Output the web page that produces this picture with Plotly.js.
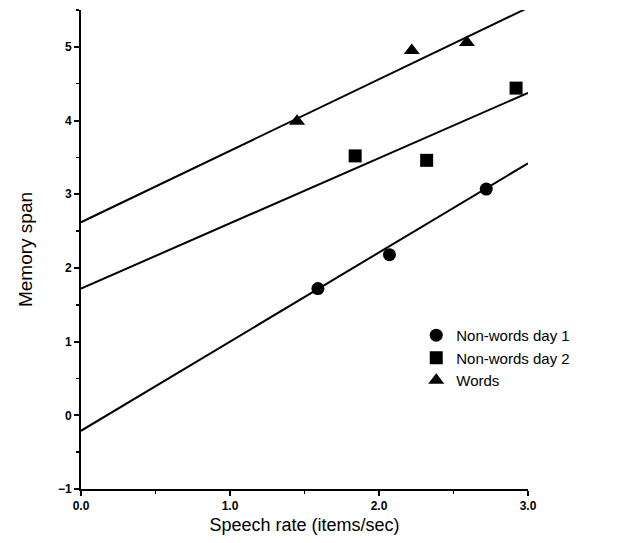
<!DOCTYPE html>
<html>
<head>
<meta charset="utf-8">
<script src="https://cdn.plot.ly/plotly-3.0.1.min.js"></script>
<style>html,body{margin:0;padding:0;background:#fff;}</style>
</head>
<body>
<div id="chart" style="width:623px;height:543px;"></div>
<script>
// Data
const seriesNames = ["Non-words day 1", "Non-words day 2", "Words"];
const day1X = [1.59, 2.07, 2.72];
const day1Y = [1.72, 2.18, 3.07];
const day2X = [1.84, 2.32, 2.92];
const day2Y = [3.52, 3.46, 4.44];
const wordsX = [1.45, 2.22, 2.59];
const wordsY = [3.99, 4.95, 5.06];
// Fitted regression lines (intercept, slope)
const fitIntercepts = [-0.21, 1.72, 2.62];
const fitSlopes = [1.21, 0.885, 0.97];
const fitRange = [0, 3];
const xTickVals = [0, 1, 2, 3];
const xTickText = ["0.0", "1.0", "2.0", "3.0"];
const yTickVals = [-1, 0, 1, 2, 3, 4, 5];

const symbols = ["circle", "square", "triangle-up"];
const xs = [day1X, day2X, wordsX];
const ys = [day1Y, day2Y, wordsY];
const sizes = [13, 13, 14];

const traces = [];
for (let i = 0; i < 3; i++) {
  traces.push({
    x: fitRange,
    y: fitRange.map(v => fitIntercepts[i] + fitSlopes[i] * v),
    mode: "lines",
    line: {color: "#000", width: 2},
    showlegend: false,
    hoverinfo: "skip",
    cliponaxis: true
  });
}
for (let i = 0; i < 3; i++) {
  traces.push({
    x: xs[i],
    y: ys[i],
    name: seriesNames[i],
    mode: "markers",
    marker: {symbol: symbols[i], size: sizes[i], color: "#000"},
    cliponaxis: false
  });
}

const layout = {
  width: 623,
  height: 543,
  margin: {l: 81, r: 95, t: 10, b: 54},
  paper_bgcolor: "#fff",
  plot_bgcolor: "#fff",
  font: {family: "Liberation Sans, Arial, sans-serif", color: "#000"},
  showlegend: true,
  legend: {
    x: 0.75, y: 0.355, xanchor: "left", yanchor: "top",
    font: {size: 15, color: "#000"},
    bgcolor: "rgba(0,0,0,0)",
    tracegroupgap: 0,
    itemsizing: "trace"
  },
  xaxis: {
    range: [0, 3],
    tickvals: xTickVals,
    ticktext: xTickText,
    ticks: "outside",
    ticklen: 5,
    tickwidth: 2,
    tickcolor: "#000",
    minor: {dtick: 0.5, tick0: 0, ticks: "outside", ticklen: 3, tickwidth: 1.5, tickcolor: "#000"},
    showline: true,
    linecolor: "#000",
    linewidth: 2,
    showgrid: false,
    zeroline: false,
    tickfont: {size: 12, weight: "bold"},
    title: {text: "Speech rate (items/sec)", font: {size: 18}, standoff: 6}
  },
  yaxis: {
    range: [-1, 5.5],
    tickvals: yTickVals,
    ticks: "outside",
    ticklen: 5,
    tickwidth: 2,
    tickcolor: "#000",
    minor: {dtick: 0.5, tick0: 0, ticks: "outside", ticklen: 3, tickwidth: 1.5, tickcolor: "#000"},
    showline: true,
    linecolor: "#000",
    linewidth: 2,
    showgrid: false,
    zeroline: false,
    tickfont: {size: 12, weight: "bold"},
    title: {text: "Memory span", font: {size: 19}, standoff: 20}
  }
};

Plotly.newPlot("chart", traces, layout, {displayModeBar: false, staticPlot: true});
</script>
</body>
</html>
